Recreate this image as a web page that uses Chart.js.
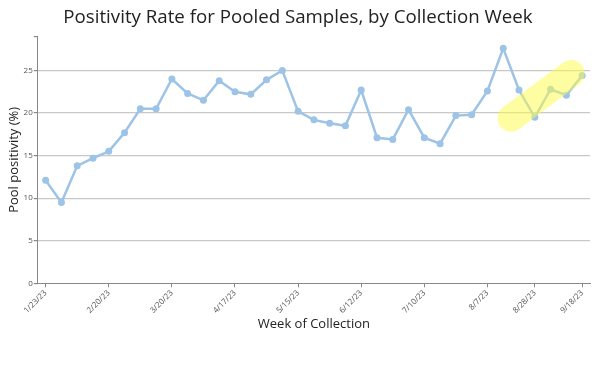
<!DOCTYPE html>
<html>
<head>
<meta charset="utf-8">
<script src="https://cdn.jsdelivr.net/npm/chart.js@4/dist/chart.umd.min.js"></script>
<style>
  html, body { margin: 0; padding: 0; background: #fff; }
  #wrap { width: 600px; height: 372px; }
</style>
</head>
<body>
<div id="wrap"><canvas id="poolChart"></canvas></div>
<script>
// weekly collection dates
const weekLabels = [
  '1/23/23', '1/30/23', '2/6/23', '2/13/23', '2/20/23', '2/27/23', '3/6/23', '3/13/23',
  '3/20/23', '3/27/23', '4/3/23', '4/10/23', '4/17/23', '4/24/23', '5/1/23', '5/8/23',
  '5/15/23', '5/22/23', '5/29/23', '6/5/23', '6/12/23', '6/19/23', '6/26/23', '7/3/23',
  '7/10/23', '7/17/23', '7/24/23', '7/31/23', '8/7/23', '8/14/23', '8/21/23', '8/28/23',
  '9/4/23', '9/11/23', '9/18/23'
];

// pool positivity (%)
const positivity = [
  12.1, 9.5, 13.8, 14.7, 15.5, 17.7, 20.5, 20.5,
  24.0, 22.3, 21.5, 23.8, 22.5, 22.2, 23.9, 25.0,
  20.2, 19.2, 18.8, 18.5, 22.7, 17.1, 16.9, 20.4,
  17.1, 16.4, 19.7, 19.8, 22.6, 27.6, 22.7, 19.5,
  22.8, 22.1, 24.4
];

// dates shown on the x axis
const shownDates = ['1/23/23', '2/20/23', '3/20/23', '4/17/23', '5/15/23', '6/12/23', '7/10/23', '8/7/23', '8/28/23', '9/18/23'];

// yellow highlighter stroke (week index, %)
const highlightX = [29.5, 33.3];
const highlightY = [19.4, 24.65];

const tickFont = { family: 'Open Sans', size: 8 };

new Chart(document.getElementById('poolChart'), {
  type: 'line',
  data: {
    labels: weekLabels,
    datasets: [
      {
        label: 'highlight',
        xAxisID: 'x2',
        data: highlightX.map((x, i) => ({ x: x, y: highlightY[i] })),
        borderColor: 'rgba(255, 252, 70, 0.5)',
        borderWidth: 27,
        borderCapStyle: 'round',
        pointRadius: 0,
        fill: false
      },
      {
        label: 'Pool positivity',
        data: positivity,
        borderColor: '#9dc3e6',
        backgroundColor: '#9dc3e6',
        borderWidth: 2.5,
        pointRadius: 3.5,
        pointBorderWidth: 0,
        tension: 0,
        fill: false
      }
    ]
  },
  options: {
    responsive: true,
    maintainAspectRatio: false,
    animation: false,
    layout: { padding: { left: 6, right: 10, top: 0, bottom: 36 } },
    plugins: {
      legend: { display: false },
      tooltip: { enabled: false },
      title: {
        display: true,
        text: 'Positivity Rate for Pooled Samples, by Collection Week',
        color: '#222',
        font: { family: 'Open Sans', size: 18.7, weight: 'normal' },
        padding: { top: 6, bottom: 8 }
      }
    },
    scales: {
      x: {
        offset: true,
        afterBuildTicks: function(axis) {
          axis.ticks = axis.ticks.filter(t => shownDates.includes(weekLabels[t.value]));
        },
        ticks: {
          autoSkip: false,
          minRotation: 45,
          maxRotation: 45,
          color: '#555',
          font: tickFont,
          padding: 1
        },
        grid: { drawOnChartArea: false, tickLength: 4, color: '#888' },
        border: { color: '#888' },
        title: {
          display: true,
          text: 'Week of Collection',
          color: '#222',
          font: { family: 'Open Sans', size: 13 },
          padding: { top: 0 }
        }
      },
      x2: {
        type: 'linear',
        display: false,
        min: -0.5,
        max: 34.5
      },
      y: {
        min: 0,
        max: 29,
        ticks: {
          stepSize: 5,
          color: '#555',
          font: tickFont,
          padding: 1,
          callback: v => (v % 5 === 0 ? v : '')
        },
        grid: {
          color: ctx => (ctx.tick && ctx.tick.value % 5 === 0 && ctx.tick.value > 0 ? '#c8c8c8' : 'rgba(0,0,0,0)'),
          tickColor: '#888',
          tickLength: 4,
          lineWidth: 1.2
        },
        border: { color: '#888' },
        title: {
          display: true,
          text: 'Pool positivity (%)',
          color: '#222',
          font: { family: 'Open Sans', size: 13 },
          padding: { top: 0, bottom: 1 }
        }
      }
    }
  }
});
</script>
</body>
</html>
